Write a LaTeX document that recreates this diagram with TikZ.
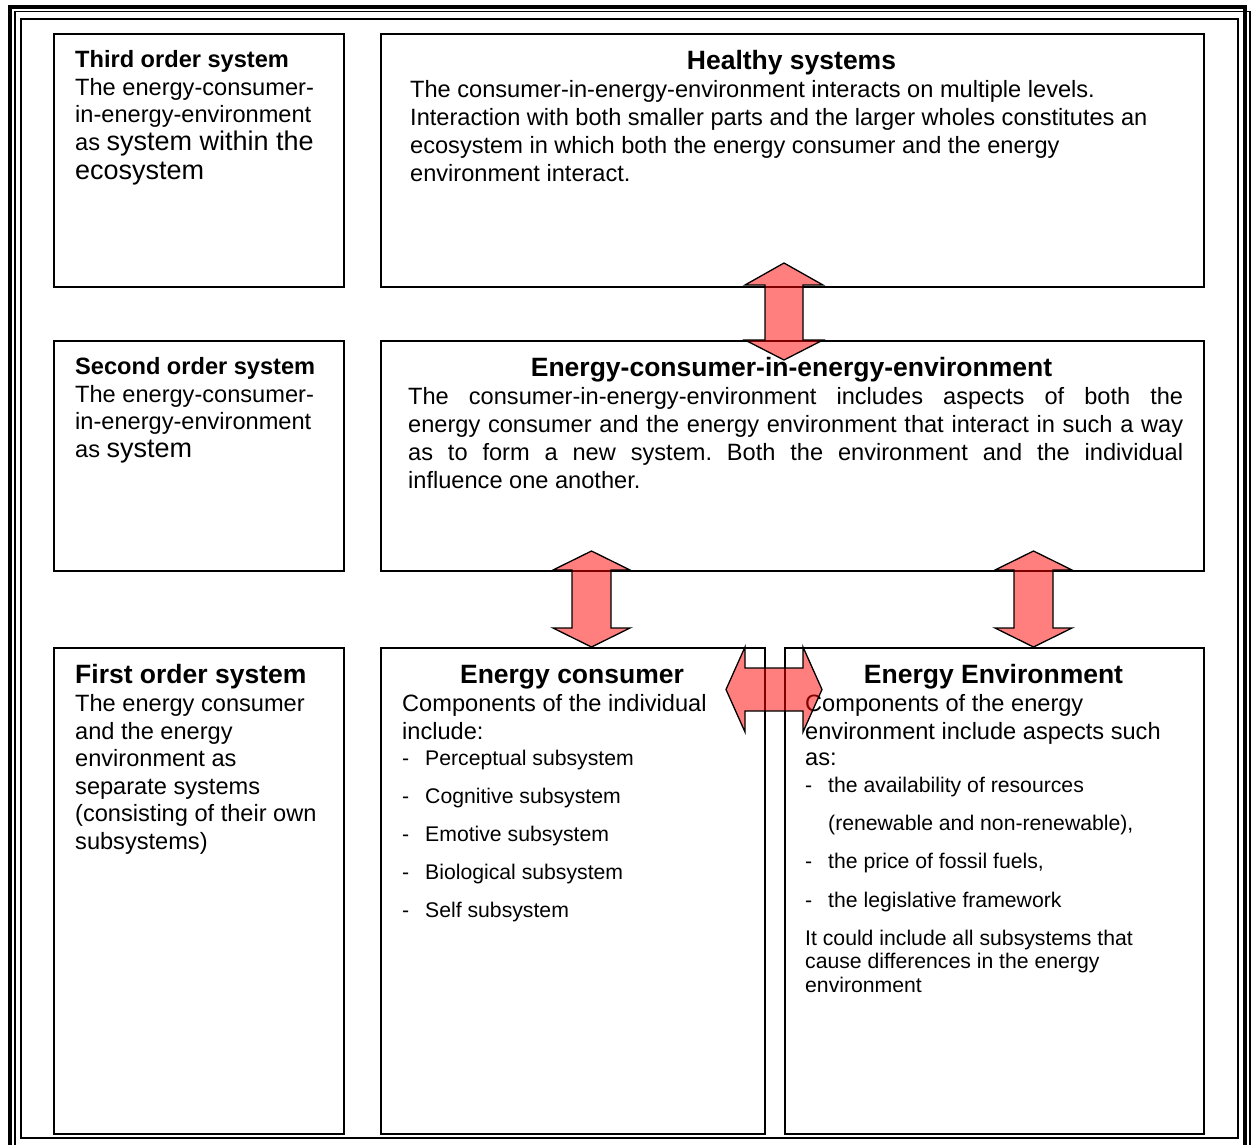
\documentclass[tikz,border=0pt]{standalone}
\usepackage{fontspec}
\setmainfont{Liberation Sans}
\frenchspacing
\newcommand\bigsz{\fontsize{27}{31}\selectfont}
\begin{document}
\begin{tikzpicture}[x=1pt,y=-1pt,
  box/.style={draw=black, line width=1.6pt, inner sep=0pt, anchor=north west},
  body/.style={anchor=base west, inner sep=0pt, font=\fontsize{23.6}{27}\selectfont},
  small/.style={anchor=base west, inner sep=0pt, font=\fontsize{21.2}{24}\selectfont},
  lefthead/.style={anchor=base west, inner sep=0pt, font=\fontsize{23.6}{27}\selectfont\bfseries},
  bighead/.style={anchor=base west, inner sep=0pt, font=\fontsize{26.5}{30}\selectfont\bfseries},
  head/.style={anchor=base, inner sep=0pt, font=\fontsize{26.5}{30}\selectfont\bfseries},
  blockarrow/.style={draw=black, line width=1.3pt, fill=red, fill opacity=0.5, line join=miter}
]
\useasboundingbox (0,0) rectangle (1256,1144);
\clip (0,0) rectangle (1256,1144);

% page frame: thick, thin and inner rules
\draw[line width=4pt] (10,6.5) rectangle (1245,1152);
\draw[line width=1.2pt] (15,11.5) rectangle (1250,1156);
\draw[line width=2.2pt] (21,19) rectangle (1238,1138);

% boxes
\node[box, minimum width=290pt, minimum height=253pt] (third)    at (53,33)  {};
\node[box, minimum width=290pt, minimum height=230pt] (second)   at (53,340) {};
\node[box, minimum width=290pt, minimum height=486pt] (first)    at (53,647) {};
\node[box, minimum width=823pt, minimum height=253pt] (healthy)  at (380,33) {};
\node[box, minimum width=823pt, minimum height=230pt] (ecie)     at (380,340) {};
\node[box, minimum width=384pt, minimum height=486pt] (consumer) at (380,647) {};
\node[box, minimum width=419pt, minimum height=486pt] (environ)  at (784,647) {};

% third order system
\node[lefthead] (t3h) at (75,67) {Third order system};
\node[body] (t3a) at (75,95)  {The energy-consumer-};
\node[body] (t3b) at (75,122) {in-energy-environment};
\node[body] (t3c) at (75,150) {as {\bigsz system within the}};
\node[body] (t3d) at (75,179) {\bigsz ecosystem};

% second order system
\node[lefthead] (t2h) at (75,374) {Second order system};
\node[body] (t2a) at (75,402) {The energy-consumer-};
\node[body] (t2b) at (75,429) {in-energy-environment};
\node[body] (t2c) at (75,457) {as {\bigsz system}};

% first order system
\node[bighead] (t1h) at (75,683) {First order system};
\node[body] (t1a) at (75,711) {The energy consumer};
\node[body] (t1b) at (75,739) {and the energy};
\node[body] (t1c) at (75,766) {environment as};
\node[body] (t1d) at (75,794) {separate systems};
\node[body] (t1e) at (75,821) {(consisting of their own};
\node[body] (t1f) at (75,849) {subsystems)};

% healthy systems
\node[head] (hh) at (791.5,69) {Healthy systems};
\node[body] (ha) at (410,97)  {The consumer-in-energy-environment interacts on multiple levels.};
\node[body] (hb) at (410,125) {Interaction with both smaller parts and the larger wholes constitutes an};
\node[body] (hc) at (410,153) {ecosystem in which both the energy consumer and the energy};
\node[body] (hd) at (410,181) {environment interact.};

% energy-consumer-in-energy-environment
\node[head] (eh) at (791.5,376) {Energy-consumer-in-energy-environment};
\node[body] (ea) at (408,404) {\makebox[775pt][s]{The consumer-in-energy-environment includes aspects of both the}};
\node[body] (eb) at (408,432) {\makebox[775pt][s]{energy consumer and the energy environment that interact in such a way}};
\node[body] (ec) at (408,460) {\makebox[775pt][s]{as to form a new system. Both the environment and the individual}};
\node[body] (ed) at (408,488) {influence one another.};

% energy consumer
\node[head] (ch) at (572,683) {Energy consumer};
\node[body] (ca) at (402,711) {Components of the individual};
\node[body] (cb) at (402,739) {include:};
\node[small] (cd1) at (402,765) {-}; \node[small] (ci1) at (425,765) {Perceptual subsystem};
\node[small] (cd2) at (402,803) {-}; \node[small] (ci2) at (425,803) {Cognitive subsystem};
\node[small] (cd3) at (402,841) {-}; \node[small] (ci3) at (425,841) {Emotive subsystem};
\node[small] (cd4) at (402,879) {-}; \node[small] (ci4) at (425,879) {Biological subsystem};
\node[small] (cd5) at (402,917) {-}; \node[small] (ci5) at (425,917) {Self subsystem};

% energy environment
\node[head] (vh) at (993.5,683) {Energy Environment};
\node[body] (va) at (805,711) {Components of the energy};
\node[body] (vb) at (805,739) {environment include aspects such};
\node[body] (vc) at (805,765) {as:};
\node[small] (vd1) at (805,792) {-}; \node[small] (vi1) at (828,792) {the availability of resources};
\node[small] (vi1b) at (828,830) {(renewable and non-renewable),};
\node[small] (vd2) at (805,868) {-}; \node[small] (vi2) at (828,868) {the price of fossil fuels,};
\node[small] (vd3) at (805,907) {-}; \node[small] (vi3) at (828,907) {the legislative framework};
\node[small] (ve) at (805,945) {It could include all subsystems that};
\node[small] (vf) at (805,968.5) {cause differences in the energy};
\node[small] (vg) at (805,992) {environment};

% block arrows linking the levels
\draw[blockarrow] (784,263) -- (823,285) -- (803,285) -- (803,340) -- (823,340)
  -- (784,360) -- (745,340) -- (765,340) -- (765,285) -- (745,285) -- cycle;
\draw[blockarrow] (591.5,551) -- (630,570) -- (611,570) -- (611,628) -- (630,628)
  -- (591.5,647) -- (553,628) -- (572,628) -- (572,570) -- (553,570) -- cycle;
\draw[blockarrow] (1033.5,551) -- (1072,570) -- (1053,570) -- (1053,628) -- (1072,628)
  -- (1033.5,647) -- (995,628) -- (1014,628) -- (1014,570) -- (995,570) -- cycle;
\draw[blockarrow] (726,689.5) -- (745,647) -- (745,668) -- (803,668) -- (803,647)
  -- (822,689.5) -- (803,732) -- (803,711) -- (745,711) -- (745,732) -- cycle;
\end{tikzpicture}
\end{document}
